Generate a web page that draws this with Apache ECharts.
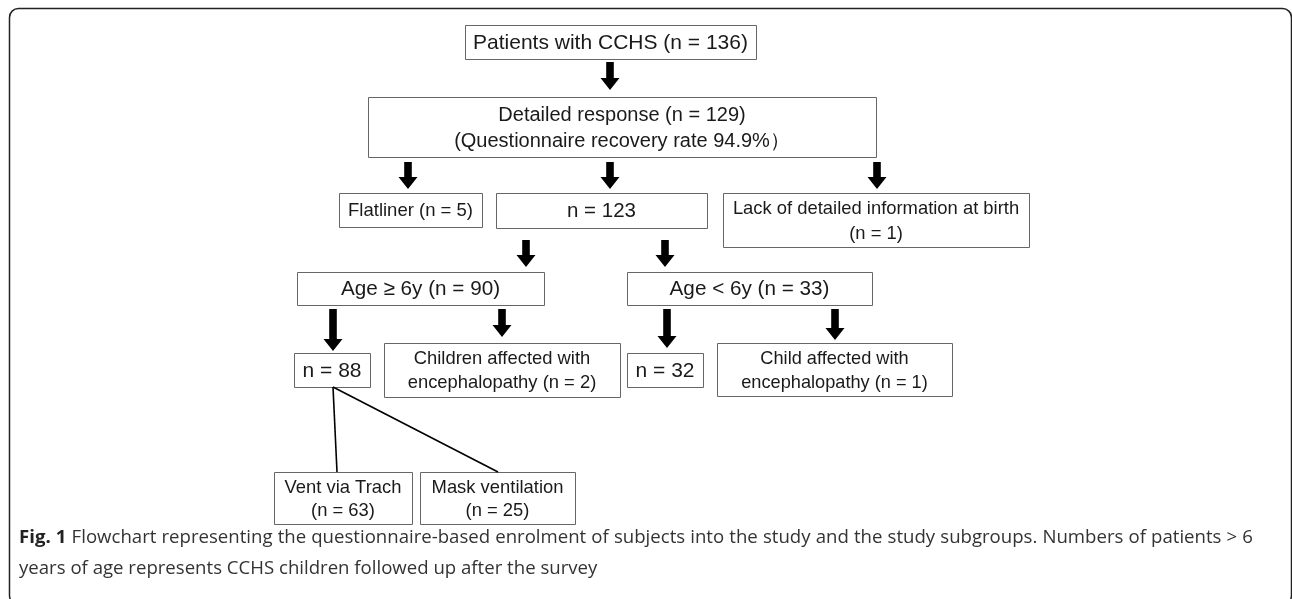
<!DOCTYPE html>
<html>
<head>
<meta charset="utf-8">
<script src="https://cdn.jsdelivr.net/npm/echarts@6/dist/echarts.min.js"></script>
<style>
html,body{margin:0;padding:0;background:#fff;}
#chart{width:1292px;height:599px;}
</style>
</head>
<body>
<div id="chart"></div>
<script>
// ---- content ----
const boxLabels = [
  'Patients with CCHS (n = 136)',
  'Detailed response (n = 129)\n(Questionnaire recovery rate 94.9%\uFF09',
  'Flatliner (n = 5)',
  'n = 123',
  'Lack of detailed information at birth\n(n = 1)',
  'Age \u2265 6y (n = 90)',
  'Age < 6y (n = 33)',
  'n = 88',
  'Children affected with\nencephalopathy (n = 2)',
  'n = 32',
  'Child affected with\nencephalopathy (n = 1)',
  'Vent via Trach\n(n = 63)',
  'Mask ventilation\n(n = 25)'
];
const captionBold = 'Fig. 1';
const captionLine1 = 'Flowchart representing the questionnaire-based enrolment of subjects into the study and the study subgroups. Numbers of patients > 6';
const captionLine2 = 'years of age represents CCHS children followed up after the survey';

// ---- layout (positions / styles only) ----
const boxRects = [
  [465, 25, 756, 59],
  [368, 97, 876, 157],
  [339, 193, 482, 227],
  [496, 193, 707, 228],
  [723, 193, 1029, 247],
  [297, 272, 544, 305],
  [627, 272, 872, 305],
  [294, 353, 370, 387],
  [384, 343, 620, 397],
  [627, 353, 703, 387],
  [717, 343, 952, 396],
  [274, 472, 412, 524],
  [420, 472, 575, 524]
];
const boxFontSizes = [21, 20, 18.5, 20.5, 18.4, 20.7, 20.7, 21, 18.4, 21, 18.2, 18.4, 18.4];
const boxLineHeights = [25, 26, 25, 25, 25, 25, 25, 25, 24, 25, 24, 23, 23];
const arrowPos = [
  [610, 62, 90], [408, 162, 189], [610, 162, 189], [877, 162, 189],
  [526, 240, 267], [665, 240, 267],
  [333, 309, 351], [502, 309, 337], [667, 309, 348], [835, 309, 340]
];
const splitLines = [
  [[333, 387], [337, 472]],
  [[333, 387], [498, 472]]
];

const elements = [];
// frame
elements.push({
  type: 'rect',
  shape: {x: 9.5, y: 8.5, width: 1282, height: 596, r: 9},
  style: {fill: 'none', stroke: '#222', lineWidth: 1.5}
});
boxRects.forEach(function (r, i) {
  elements.push({
    type: 'rect',
    shape: {x: r[0] + 0.5, y: r[1] + 0.5, width: r[2] - r[0], height: r[3] - r[1]},
    style: {fill: '#fff', stroke: '#666', lineWidth: 1}
  });
  elements.push({
    type: 'text',
    x: (r[0] + r[2]) / 2,
    y: (r[1] + r[3]) / 2 + 1,
    style: {
      text: boxLabels[i],
      fill: '#1a1a1a',
      font: boxFontSizes[i] + 'px "Liberation Sans", Arial, sans-serif',
      lineHeight: boxLineHeights[i],
      align: 'center',
      verticalAlign: 'middle'
    }
  });
});
arrowPos.forEach(function (a) {
  const cx = a[0], y0 = a[1], y1 = a[2];
  const sw = 3.8, hw = 9.5, hh = 12;
  elements.push({
    type: 'polygon',
    shape: {points: [
      [cx - sw, y0], [cx + sw, y0], [cx + sw, y1 - hh], [cx + hw, y1 - hh],
      [cx, y1], [cx - hw, y1 - hh], [cx - sw, y1 - hh]
    ]},
    style: {fill: '#000'}
  });
});
splitLines.forEach(function (l) {
  elements.push({
    type: 'line',
    shape: {x1: l[0][0], y1: l[0][1], x2: l[1][0], y2: l[1][1]},
    style: {stroke: '#000', lineWidth: 1.6}
  });
});

// caption: first line justified between x=19 and x=1253
const capSize = 18.6;
const capFont = capSize + 'px "Open Sans", sans-serif';
const capBoldFont = 'bold ' + capSize + 'px "Open Sans", sans-serif';
const ctx = document.createElement('canvas').getContext('2d');
const words = captionBold.split(' ').map(function (w) { return {w: w, b: true}; })
  .concat(captionLine1.split(' ').map(function (w) { return {w: w, b: false}; }));
let total = 0;
words.forEach(function (o) {
  ctx.font = o.b ? capBoldFont : capFont;
  o.width = ctx.measureText(o.w).width;
  total += o.width;
});
ctx.font = capFont;
const spaceW = ctx.measureText(' ').width;
const capLeft = 19, capRight = 1253;
const gap = Math.max(spaceW, (capRight - capLeft - total) / (words.length - 1));
let cx = capLeft;
words.forEach(function (o) {
  elements.push({
    type: 'text',
    x: cx, y: 538,
    style: {
      text: o.w,
      font: o.b ? capBoldFont : capFont,
      fill: o.b ? '#222' : '#333',
      verticalAlign: 'middle'
    }
  });
  cx += o.width + gap;
});
elements.push({
  type: 'text',
  x: 19, y: 569,
  style: {
    text: captionLine2,
    font: capFont,
    fill: '#333',
    verticalAlign: 'middle'
  }
});

const chart = echarts.init(document.getElementById('chart'), null, {renderer: 'canvas'});
chart.setOption({
  backgroundColor: '#fff',
  animation: false,
  graphic: {elements: elements}
});
</script>
</body>
</html>
